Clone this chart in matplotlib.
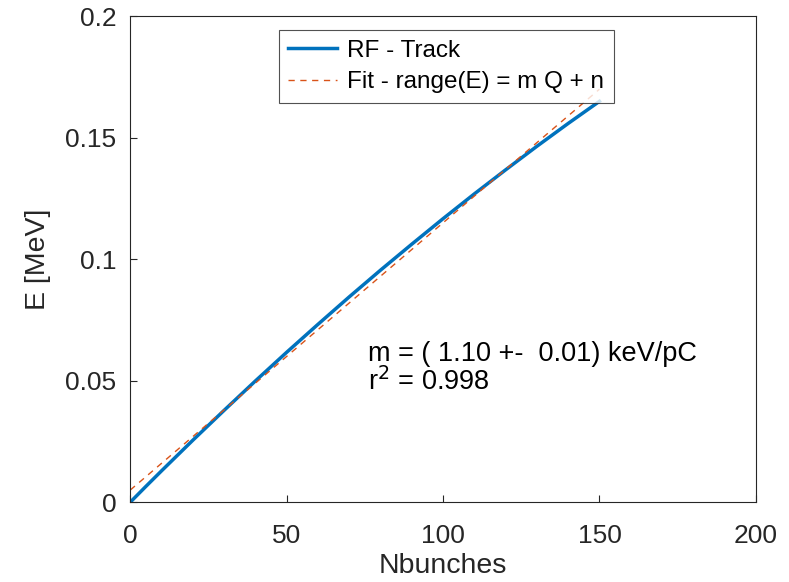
import matplotlib
matplotlib.use("Agg")
import matplotlib.pyplot as plt

plt.rcParams["font.family"] = ["Liberation Sans", "DejaVu Sans"]

# RF tracking result
nbunches = [0, 5, 10, 20, 30, 40, 50, 60, 70, 80, 90, 100, 110, 120, 130, 140, 150]
energy_mev = [0.0, 0.0065, 0.0129, 0.0255, 0.0378, 0.0499, 0.0617, 0.0732,
              0.0845, 0.0955, 0.1062, 0.1167, 0.1269, 0.1368, 0.1465, 0.1559, 0.1650]

# linear fit endpoints
fit_x = [0, 150]
fit_y = [0.005, 0.170]

slope_text = "m = ( 1.10 +-  0.01) keV/pC"
r2_text = "r$^2$ = 0.998"

fig = plt.figure(figsize=(7.89, 5.82), dpi=100)
ax = fig.add_axes([0.165, 0.137, 0.793, 0.835])

ax.plot(nbunches, energy_mev, color="#0072BD", linewidth=2.5, label="RF - Track")
ax.plot(fit_x, fit_y, color="#D95319", linewidth=1.0, linestyle=(0, (4.5, 4)),
        label="Fit - range(E) = m Q + n")

ax.text(76, 0.055, slope_text + "\n" + r2_text, fontsize=19.5, va="center", ha="left",
        linespacing=1.05, color="black")

ax.set_xlim(0, 200)
ax.set_ylim(0, 0.2)
ax.set_xticks([0, 50, 100, 150, 200])
ax.set_yticks([0, 0.05, 0.1, 0.15, 0.2])
ax.set_yticklabels(["0", "0.05", "0.1", "0.15", "0.2"])
ax.tick_params(direction="in", length=5, width=0.8, labelsize=19, colors="#262626",
               top=False, right=False)
ax.tick_params(axis="y", pad=10)
ax.tick_params(axis="x", pad=16)
for spine in ax.spines.values():
    spine.set_color("#262626")
    spine.set_linewidth(0.8)
ax.set_xlabel("Nbunches", fontsize=20.5, color="#262626", labelpad=3)
ax.set_ylabel("E [MeV]", fontsize=20.5, color="#262626", labelpad=10)

leg = ax.legend(loc="upper center", bbox_to_anchor=(0.505, 0.972), fontsize=17.5,
                frameon=True, fancybox=False, edgecolor="#262626", borderpad=0.4,
                handlelength=2.0, handletextpad=0.4, labelspacing=0.4, borderaxespad=0)
leg.get_frame().set_linewidth(0.8)

fig.savefig("out.png", dpi=100)
